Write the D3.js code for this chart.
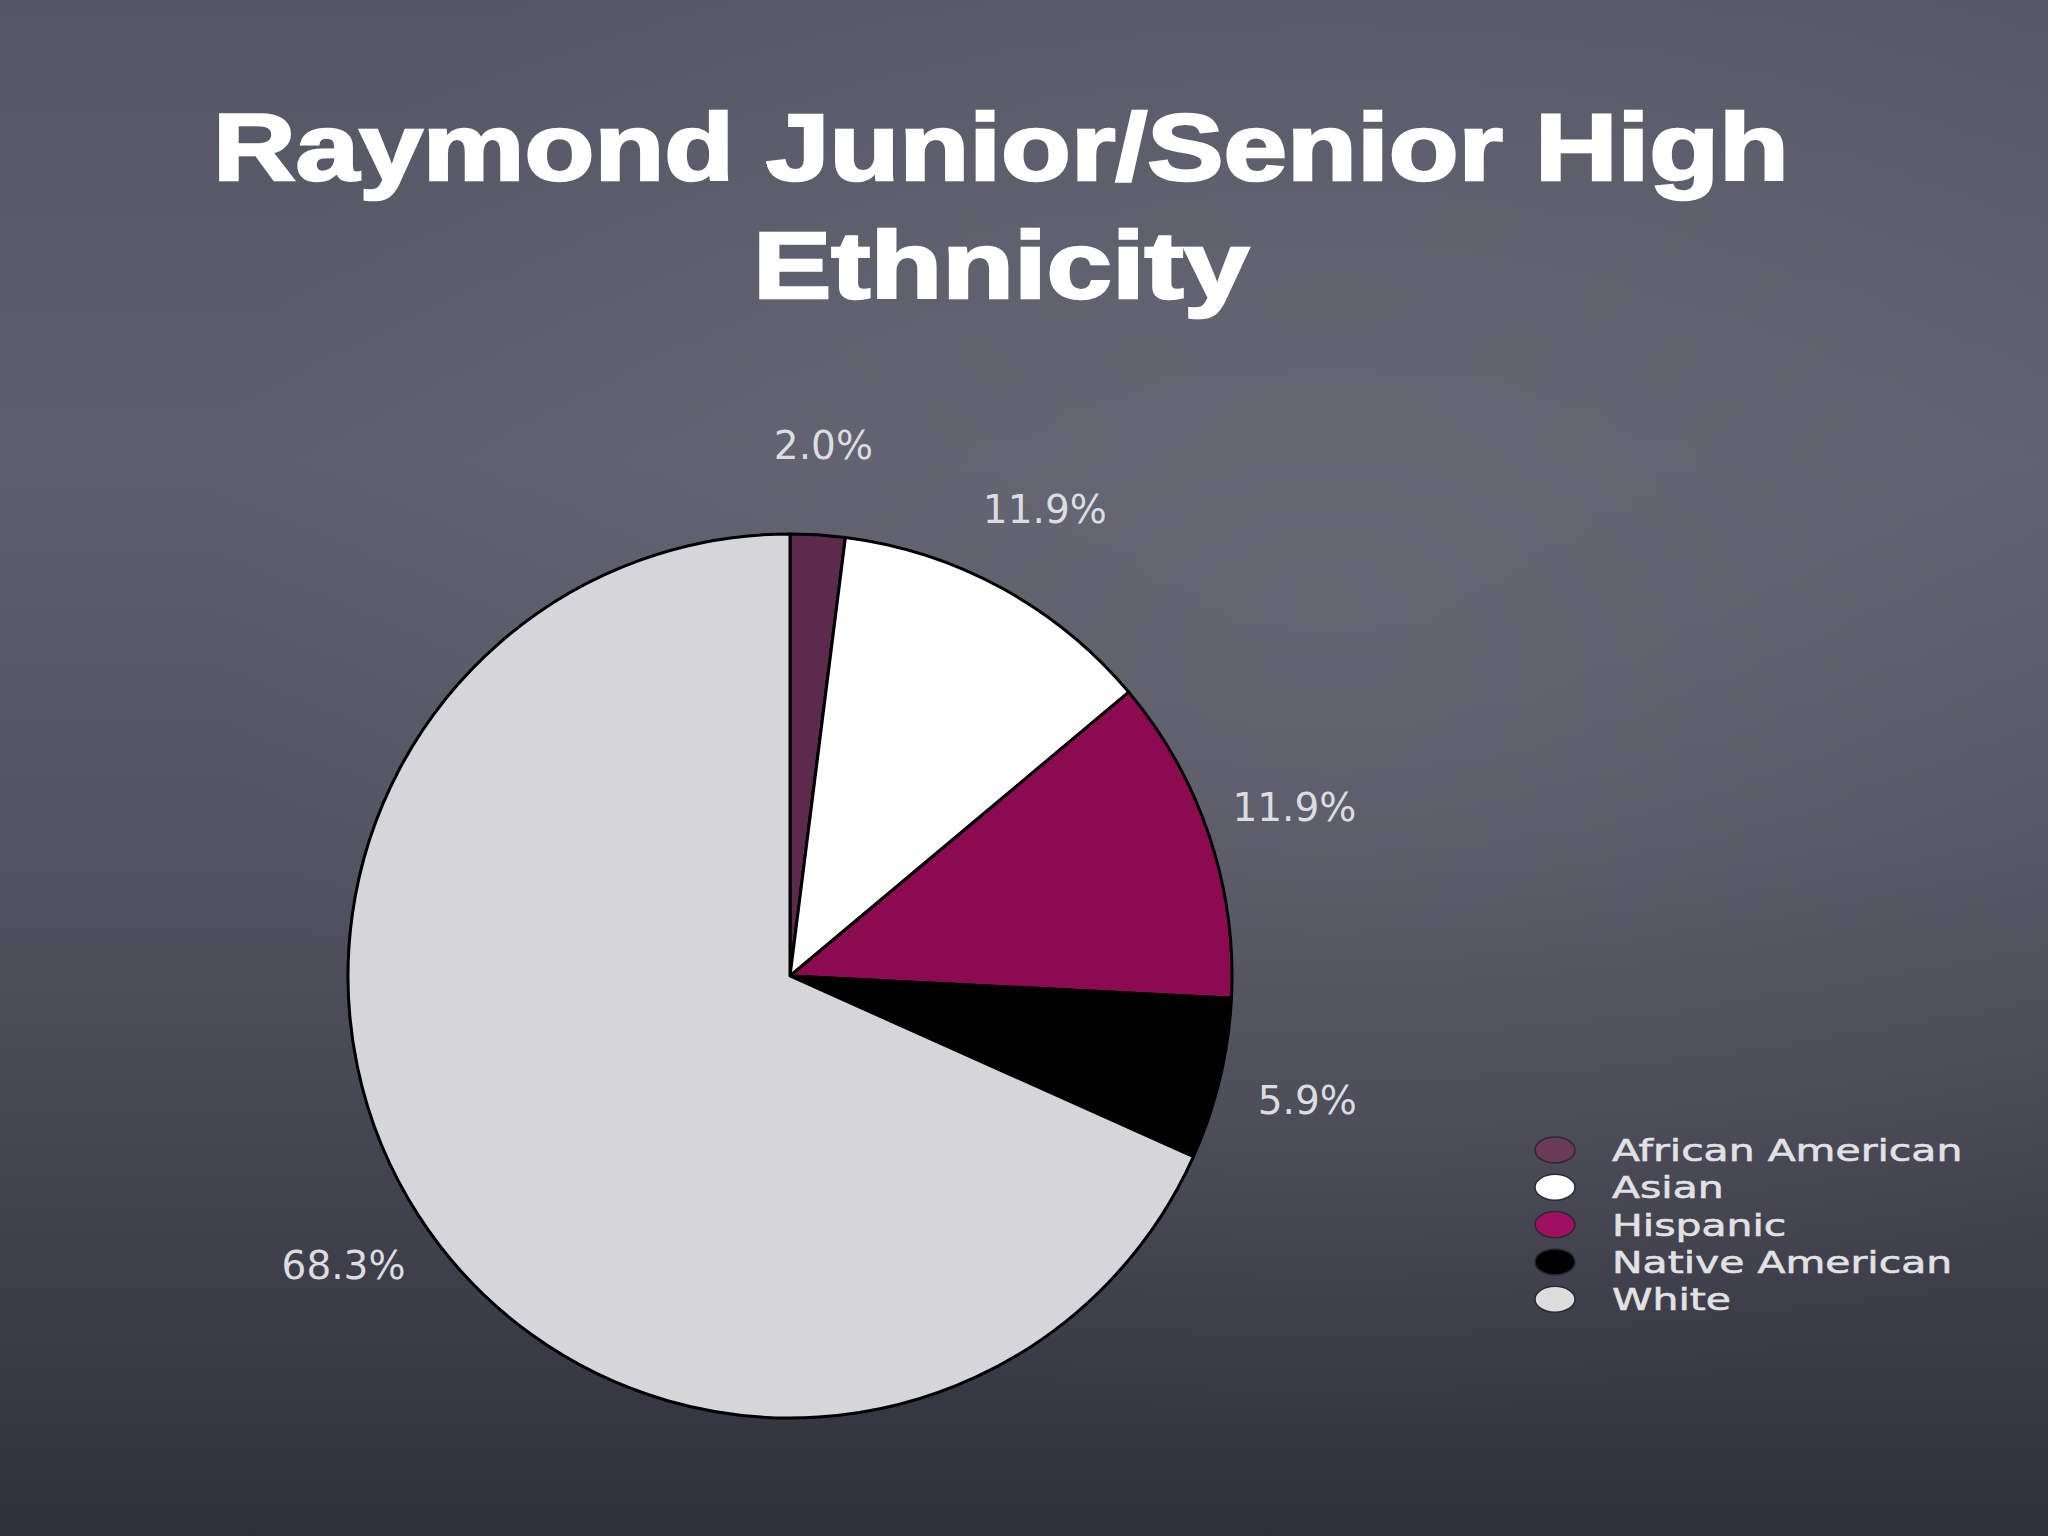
<!DOCTYPE html>
<html lang="en">
<head>
<meta charset="UTF-8">
<title>Raymond Junior/Senior High Ethnicity</title>
<script src="https://d3js.org/d3.v7.min.js"></script>
<style>
  html, body { margin: 0; padding: 0; background: #3a3c48; }
  svg { display: block; }
</style>
</head>
<body>
<svg id="chart" width="2048" height="1536"></svg>
<script>
// data
var categories = ["African American", "Asian", "Hispanic", "Native American", "White"];
var percents = [2.0, 11.9, 11.9, 5.9, 68.3];
var sliceColors = ["#5c2a4c", "#ffffff", "#8c0a50", "#000000", "#d6d5d7"];
var legendColors = ["#6b3a5a", "#ffffff", "#a01060", "#000000", "#dddddd"];
var titleLines = ["Raymond Junior/Senior High", "Ethnicity"];

var svg = d3.select("#chart"),
    width = +svg.attr("width"),
    height = +svg.attr("height");

// chalkboard background
var defs = svg.append("defs");
var lin = defs.append("linearGradient").attr("id", "bgLin")
    .attr("x1", 0).attr("y1", 0).attr("x2", 0).attr("y2", 1);
[[0, "#555764"], [0.3, "#5c5e6b"], [0.55, "#525461"], [0.8, "#40414d"], [1, "#2f303b"]]
  .forEach(function(s){ lin.append("stop").attr("offset", s[0]).attr("stop-color", s[1]); });

var rad = defs.append("radialGradient").attr("id", "bgRad")
    .attr("cx", 0.65).attr("cy", 0.38).attr("r", 0.55);
rad.append("stop").attr("offset", 0).attr("stop-color", "#7a7c88").attr("stop-opacity", 0.35);
rad.append("stop").attr("offset", 1).attr("stop-color", "#7a7c88").attr("stop-opacity", 0);

svg.append("rect").attr("width", width).attr("height", height).attr("fill", "url(#bgLin)");
svg.append("rect").attr("width", width).attr("height", height).attr("fill", "url(#bgRad)");

// title
var titleX = 1001;
var titleBase = [180, 298];
var titleWidth = [1576, 496];
svg.selectAll("text.title")
  .data(titleLines)
  .enter()
  .append("text")
    .attr("class", "title")
    .attr("x", titleX)
    .attr("y", function(d, i){ return titleBase[i]; })
    .attr("text-anchor", "middle")
    .attr("textLength", function(d, i){ return titleWidth[i]; })
    .attr("lengthAdjust", "spacingAndGlyphs")
    .style("font-family", "'Liberation Sans', Arial, sans-serif")
    .style("font-weight", "bold")
    .style("font-size", "94px")
    .style("fill", "#ffffff")
    .style("stroke", "#ffffff")
    .style("stroke-width", 2.5)
    .text(function(d){ return d; });

// pie
var cx = 790, cy = 976, radius = 442, labelRadius = 532;

var pie = d3.pie().sort(null).value(function(d){ return d; });
var arcs = pie(percents);

var arc = d3.arc().innerRadius(0).outerRadius(radius);
var labelArc = d3.arc().innerRadius(labelRadius).outerRadius(labelRadius);

var g = svg.append("g").attr("transform", "translate(" + cx + "," + cy + ")");

g.selectAll("path")
  .data(arcs)
  .enter()
  .append("path")
    .attr("d", arc)
    .attr("fill", function(d, i){ return sliceColors[i]; })
    .attr("stroke", "#000")
    .attr("stroke-width", 3)
    .attr("stroke-linejoin", "round");

var fmt = d3.format(".1f");
g.selectAll("text.pct")
  .data(arcs)
  .enter()
  .append("text")
    .attr("class", "pct")
    .attr("transform", function(d){ return "translate(" + labelArc.centroid(d) + ")"; })
    .attr("text-anchor", "middle")
    .attr("dy", "0.36em")
    .style("font-family", "'DejaVu Sans', Verdana, sans-serif")
    .style("font-size", "39px")
    .style("fill", "#dcdde0")
    .text(function(d){ return fmt(d.value) + "%"; });

// legend
var legX = 1555, legTextX = 1612, legY0 = 1150, legStep = 37.3;

var leg = svg.append("g");
leg.selectAll("ellipse")
  .data(categories)
  .enter()
  .append("ellipse")
    .attr("cx", legX)
    .attr("cy", function(d, i){ return legY0 + i * legStep; })
    .attr("rx", 20)
    .attr("ry", 13)
    .attr("fill", function(d, i){ return legendColors[i]; })
    .attr("stroke", "#2a2a30")
    .attr("stroke-width", 1.5);

leg.selectAll("text")
  .data(categories)
  .enter()
  .append("text")
    .attr("transform", function(d, i){ return "translate(" + legTextX + "," + (legY0 + i * legStep) + ") scale(1.32,1)"; })
    .attr("dy", "0.36em")
    .style("font-family", "'DejaVu Sans', Verdana, sans-serif")
    .style("font-size", "31px")
    .style("fill", "#e2e2e4")
    .style("stroke", "#e2e2e4")
    .style("stroke-width", 0.6)
    .text(function(d){ return d; });
</script>
</body>
</html>
